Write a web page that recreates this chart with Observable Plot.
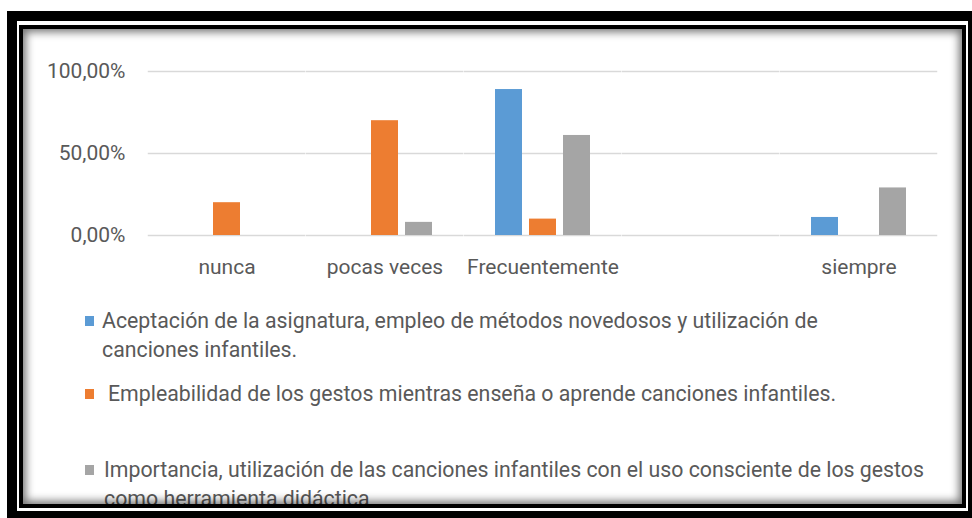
<!DOCTYPE html>
<html><head><meta charset="utf-8">
<script src="https://cdn.jsdelivr.net/npm/d3@7"></script>
<script src="https://cdn.jsdelivr.net/npm/@observablehq/plot@0.6"></script>
<style>
html,body{margin:0;padding:0;background:#fff;width:972px;height:518px;overflow:hidden;}
body{position:relative;font-family:Roboto, sans-serif;}
#outer{position:absolute;left:7px;top:11px;width:971px;height:510px;border:10px solid #000;box-sizing:border-box;}
#inner{position:absolute;left:19px;top:25px;width:947px;height:483px;border:4px solid #000;box-sizing:border-box;overflow:hidden;background:#fff;}
#shade{position:absolute;left:0;top:0;right:0;bottom:0;box-shadow:inset 0 0 9px 3px rgba(0,0,0,.55);pointer-events:none;z-index:5}
#chart{position:absolute;left:-23px;top:-29px;width:972px;height:290px;}
#chart svg{max-width:none !important;width:972px;height:290px;}
#legend{position:absolute;left:-23px;top:-29px;width:972px;height:560px;color:#595959;font-size:21.3px;line-height:29px;}
.item{position:absolute;left:85px;}
.sw{position:absolute;left:0;top:10px;width:9px;height:10px;}
.lbl{white-space:pre-line;}
</style>
</head>
<body>
<div id="outer"></div>
<div id="inner">
  <div id="chart"></div>
  <div id="legend"></div>
  <div id="shade"></div>
</div>
<script>
const categories = ["nunca", "pocas veces", "Frecuentemente", "", "siempre"];
const series = [
  "Aceptación de la asignatura, empleo de métodos novedosos y utilización de canciones infantiles.",
  "Empleabilidad de los gestos mientras enseña o aprende canciones infantiles.",
  "Importancia, utilización de las canciones infantiles con el uso consciente de los gestos como herramienta didáctica"
];
const legendLabels = [
  "Aceptación de la asignatura, empleo de métodos novedosos y utilización de\ncanciones infantiles.",
  "Empleabilidad de los gestos mientras enseña o aprende canciones infantiles.",
  "Importancia, utilización de las canciones infantiles con el uso consciente de los gestos\ncomo herramienta didáctica"
];
const aceptacion    = [0,    0,    0.89, 0, 0.11];
const empleabilidad = [0.20, 0.70, 0.10, 0, 0   ];
const importancia   = [0,    0.08, 0.61, 0, 0.29];
const colors = ["#5b9bd5", "#ed7d31", "#a5a5a5"];
const yTicks = [0, 0.5, 1];
const yTickLabels = ["0,00%", "50,00%", "100,00%"];

const values = [aceptacion, empleabilidad, importancia];
const rows = series.flatMap((s, i) => categories.map((c, j) => ({category: c, series: s, value: values[i][j]})));

const chart = Plot.plot({
  width: 972, height: 290,
  marginLeft: 148, marginRight: 34, marginTop: 71, marginBottom: 55,
  style: {background: "transparent", fontFamily: "Roboto, sans-serif", fontSize: "21px", color: "#595959"},
  fx: {domain: categories, paddingInner: 0.383, paddingOuter: 0.1915, label: null, axis: "bottom", tickSize: 0, tickPadding: 24},
  x: {domain: series, paddingInner: 0.214, paddingOuter: 0, axis: null},
  y: {domain: [0, 1], ticks: yTicks, tickFormat: d => yTickLabels[yTicks.indexOf(d)], tickSize: 0, tickPadding: 53, label: null},
  color: {domain: series, range: colors},
  marks: [
    Plot.ruleY(yTicks, {stroke: "#d9d9d9", strokeWidth: 1.5, insetLeft: -30.25, insetRight: -30.25}),
    Plot.barY(rows, {fx: "category", x: "series", y: "value", fill: "series"})
  ]
});
document.getElementById("chart").appendChild(chart);

const legendTops = [306, 379, 455];
const textLefts = [17, 23, 19];
const legend = document.getElementById("legend");
series.forEach((s, i) => {
  const item = document.createElement("div");
  item.className = "item";
  item.style.top = legendTops[i] + "px";
  const sw = document.createElement("div");
  sw.className = "sw";
  sw.style.background = colors[i];
  const lbl = document.createElement("div");
  lbl.className = "lbl";
  lbl.style.marginLeft = textLefts[i] + "px";
  lbl.textContent = legendLabels[i];
  item.appendChild(sw);
  item.appendChild(lbl);
  legend.appendChild(item);
});
</script>
</body></html>
